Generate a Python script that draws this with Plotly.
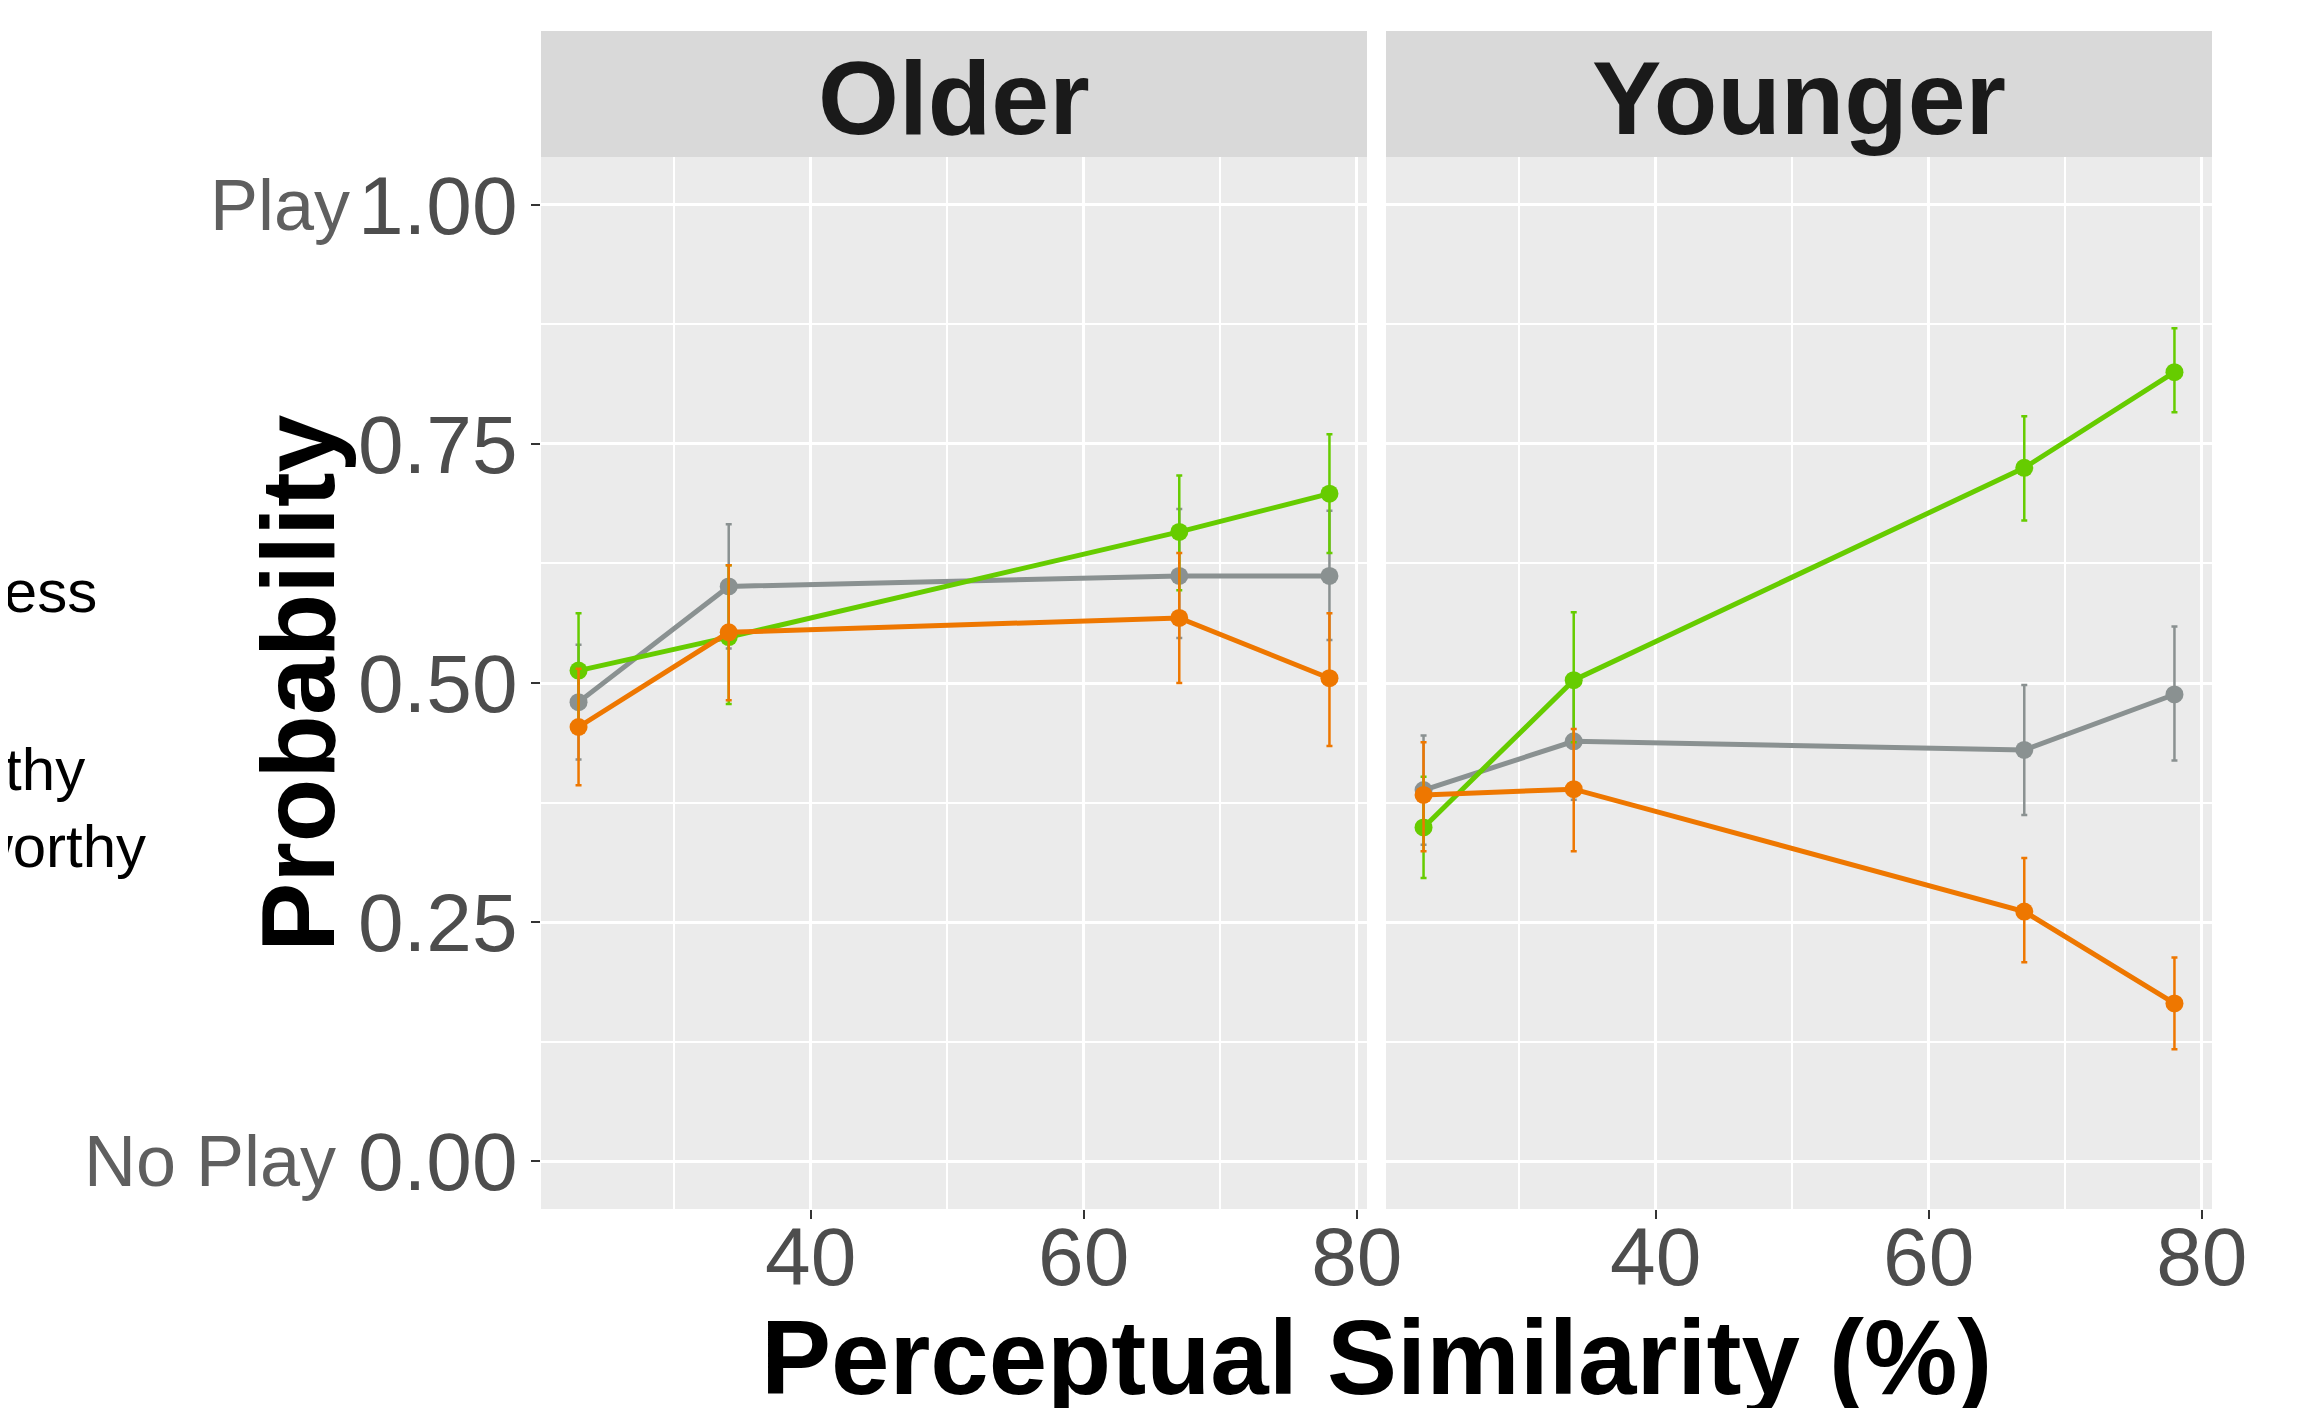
import plotly.graph_objects as go

W, H = 2324, 1408

# ---------------- data ----------------
similarity = [23, 34, 67, 78]
groups = ["Older", "Younger"]
series_names = ["Neutral", "Trustworthy", "Untrustworthy"]
series_colors = {"Neutral": "#8A9191", "Trustworthy": "#66CC00", "Untrustworthy": "#EE7700"}

older_neutral = [0.480, 0.601, 0.612, 0.612]
older_neutral_hi = [0.540, 0.666, 0.682, 0.680]
older_neutral_lo = [0.420, 0.536, 0.547, 0.545]

older_trust = [0.513, 0.548, 0.658, 0.698]
older_trust_hi = [0.573, 0.623, 0.717, 0.760]
older_trust_lo = [0.453, 0.478, 0.597, 0.636]

older_untrust = [0.454, 0.553, 0.568, 0.505]
older_untrust_hi = [0.515, 0.623, 0.636, 0.573]
older_untrust_lo = [0.393, 0.482, 0.500, 0.434]

younger_neutral = [0.388, 0.439, 0.430, 0.488]
younger_neutral_hi = [0.445, 0.500, 0.498, 0.559]
younger_neutral_lo = [0.331, 0.378, 0.362, 0.419]

younger_trust = [0.349, 0.503, 0.725, 0.825]
younger_trust_hi = [0.402, 0.574, 0.779, 0.871]
younger_trust_lo = [0.296, 0.438, 0.670, 0.783]

younger_untrust = [0.383, 0.389, 0.261, 0.165]
younger_untrust_hi = [0.438, 0.452, 0.317, 0.213]
younger_untrust_lo = [0.324, 0.324, 0.208, 0.117]

y_tickvals = [0.0, 0.25, 0.5, 0.75, 1.0]
y_ticktext = ["0.00", "0.25", "0.50", "0.75", "1.00"]
x_tickvals = [40, 60, 80]

data = {
    "Older": {
        "Neutral": (older_neutral, older_neutral_hi, older_neutral_lo),
        "Trustworthy": (older_trust, older_trust_hi, older_trust_lo),
        "Untrustworthy": (older_untrust, older_untrust_hi, older_untrust_lo),
    },
    "Younger": {
        "Neutral": (younger_neutral, younger_neutral_hi, younger_neutral_lo),
        "Trustworthy": (younger_trust, younger_trust_hi, younger_trust_lo),
        "Untrustworthy": (younger_untrust, younger_untrust_hi, younger_untrust_lo),
    },
}

# ---------------- layout geometry (pixels; page has an 8px body margin) ----------------
OFF = 8
px = lambda v: (v - OFF) / W
py = lambda v: 1 - (v - OFF) / H
panel_top, panel_bot = 157, 1209
strip_top = 31
panels = {"Older": (541, 1367), "Younger": (1386, 2212)}

FONT = "Liberation Sans, Arial, Helvetica, sans-serif"

fig = go.Figure()
for gi, g in enumerate(groups):
    xa = "x" if gi == 0 else "x2"
    ya = "y" if gi == 0 else "y2"
    for s in series_names:
        vals, hi, lo = data[g][s]
        fig.add_trace(go.Scatter(
            x=similarity, y=vals, xaxis=xa, yaxis=ya,
            mode="lines+markers", name=s, showlegend=False,
            line=dict(color=series_colors[s], width=5),
            marker=dict(color=series_colors[s], size=18),
            error_y=dict(type="data", symmetric=False,
                         array=[h - v for h, v in zip(hi, vals)],
                         arrayminus=[v - l for v, l in zip(vals, lo)],
                         color=series_colors[s], thickness=2.5, width=3),
        ))

axis_common = dict(
    showgrid=True, gridcolor="white", gridwidth=3,
    zeroline=False, showline=False,
    ticks="outside", ticklen=9, tickwidth=2, tickcolor="#333333",
    automargin=False,
)

yd = [py(panel_bot), py(panel_top)]
xr = [20.25, 80.75]
yr = [-0.05, 1.05]
minor_x = dict(dtick=10, tick0=0, showgrid=True, gridcolor="white", gridwidth=1.5, ticks="")
minor_y = dict(dtick=0.125, tick0=0, showgrid=True, gridcolor="white", gridwidth=1.5, ticks="")
tickfont = dict(size=82, color="#4D4D4D", family=FONT)

fig.update_layout(
    width=W, height=H,
    margin=dict(l=0, r=0, t=0, b=0),
    paper_bgcolor="white", plot_bgcolor="#EBEBEB",
    font=dict(family=FONT),
    xaxis=dict(domain=[px(541), px(1367)], range=xr, anchor="y",
               tickvals=x_tickvals, ticklabelstandoff=-32, tickfont=tickfont,
               minor=minor_x, **axis_common),
    xaxis2=dict(domain=[px(1386), px(2212)], range=xr, anchor="y2",
                tickvals=x_tickvals, ticklabelstandoff=-32, tickfont=tickfont,
                minor=minor_x, **axis_common),
    yaxis=dict(domain=yd, range=yr, anchor="x",
               tickvals=y_tickvals, ticktext=y_ticktext, ticklabelstandoff=-3,
               tickfont=tickfont, minor=minor_y, **axis_common),
    yaxis2=dict(domain=yd, range=yr, anchor="x2", showticklabels=False,
                tickvals=y_tickvals, minor=minor_y,
                **{**axis_common, "ticks": ""}),
)

shapes = []
annotations = []
for g in groups:
    x0, x1 = panels[g]
    shapes.append(dict(type="rect", xref="paper", yref="paper",
                       x0=px(x0), x1=px(x1), y0=py(panel_top), y1=py(strip_top),
                       fillcolor="#D9D9D9", line=dict(width=0), layer="below"))
    annotations.append(dict(text=f"<b>{g}</b>", xref="paper", yref="paper",
                            x=px((x0 + x1) / 2), y=py((strip_top + panel_top) / 2 + 4),
                            xanchor="center", yanchor="middle", showarrow=False,
                            font=dict(size=104, color="#1A1A1A", family=FONT)))

# secondary y labels
annotations.append(dict(text="Play", xref="paper", yref="y", x=px(352), y=1.0,
                        xanchor="right", yanchor="middle", showarrow=False,
                        font=dict(size=72, color="#5F5F5F", family=FONT)))
annotations.append(dict(text="No Play", xref="paper", yref="y", x=px(338), y=0.0,
                        xanchor="right", yanchor="middle", showarrow=False,
                        font=dict(size=72, color="#5F5F5F", family=FONT)))

# axis titles
annotations.append(dict(text="<b>Probability</b>", xref="paper", yref="paper",
                        x=px(298), y=py((panel_top + panel_bot) / 2),
                        xanchor="center", yanchor="middle", textangle=-90, showarrow=False,
                        font=dict(size=104, color="black", family=FONT)))
annotations.append(dict(text="<b>Perceptual Similarity (%)</b>", xref="paper", yref="paper",
                        x=px(1376), y=py(1357),
                        xanchor="center", yanchor="middle", showarrow=False,
                        font=dict(size=105, color="black", family=FONT)))

# legend (mostly cut off at the left edge, as in the reference)
annotations.append(dict(text="Trustworthiness", xref="paper", yref="paper",
                        x=px(99), y=py(591), xanchor="right", yanchor="middle", showarrow=False,
                        font=dict(size=60, color="black", family=FONT)))
leg_y = {"Neutral": 692, "Trustworthy": 769, "Untrustworthy": 846}
leg_end = {"Neutral": -10, "Trustworthy": 87, "Untrustworthy": 148}
for s in series_names:
    annotations.append(dict(text=s, xref="paper", yref="paper",
                            x=px(leg_end[s]), y=py(leg_y[s]), xanchor="right", yanchor="middle",
                            showarrow=False, font=dict(size=60, color="black", family=FONT)))

fig.update_layout(shapes=shapes, annotations=annotations)

fig.write_html("out.html")
